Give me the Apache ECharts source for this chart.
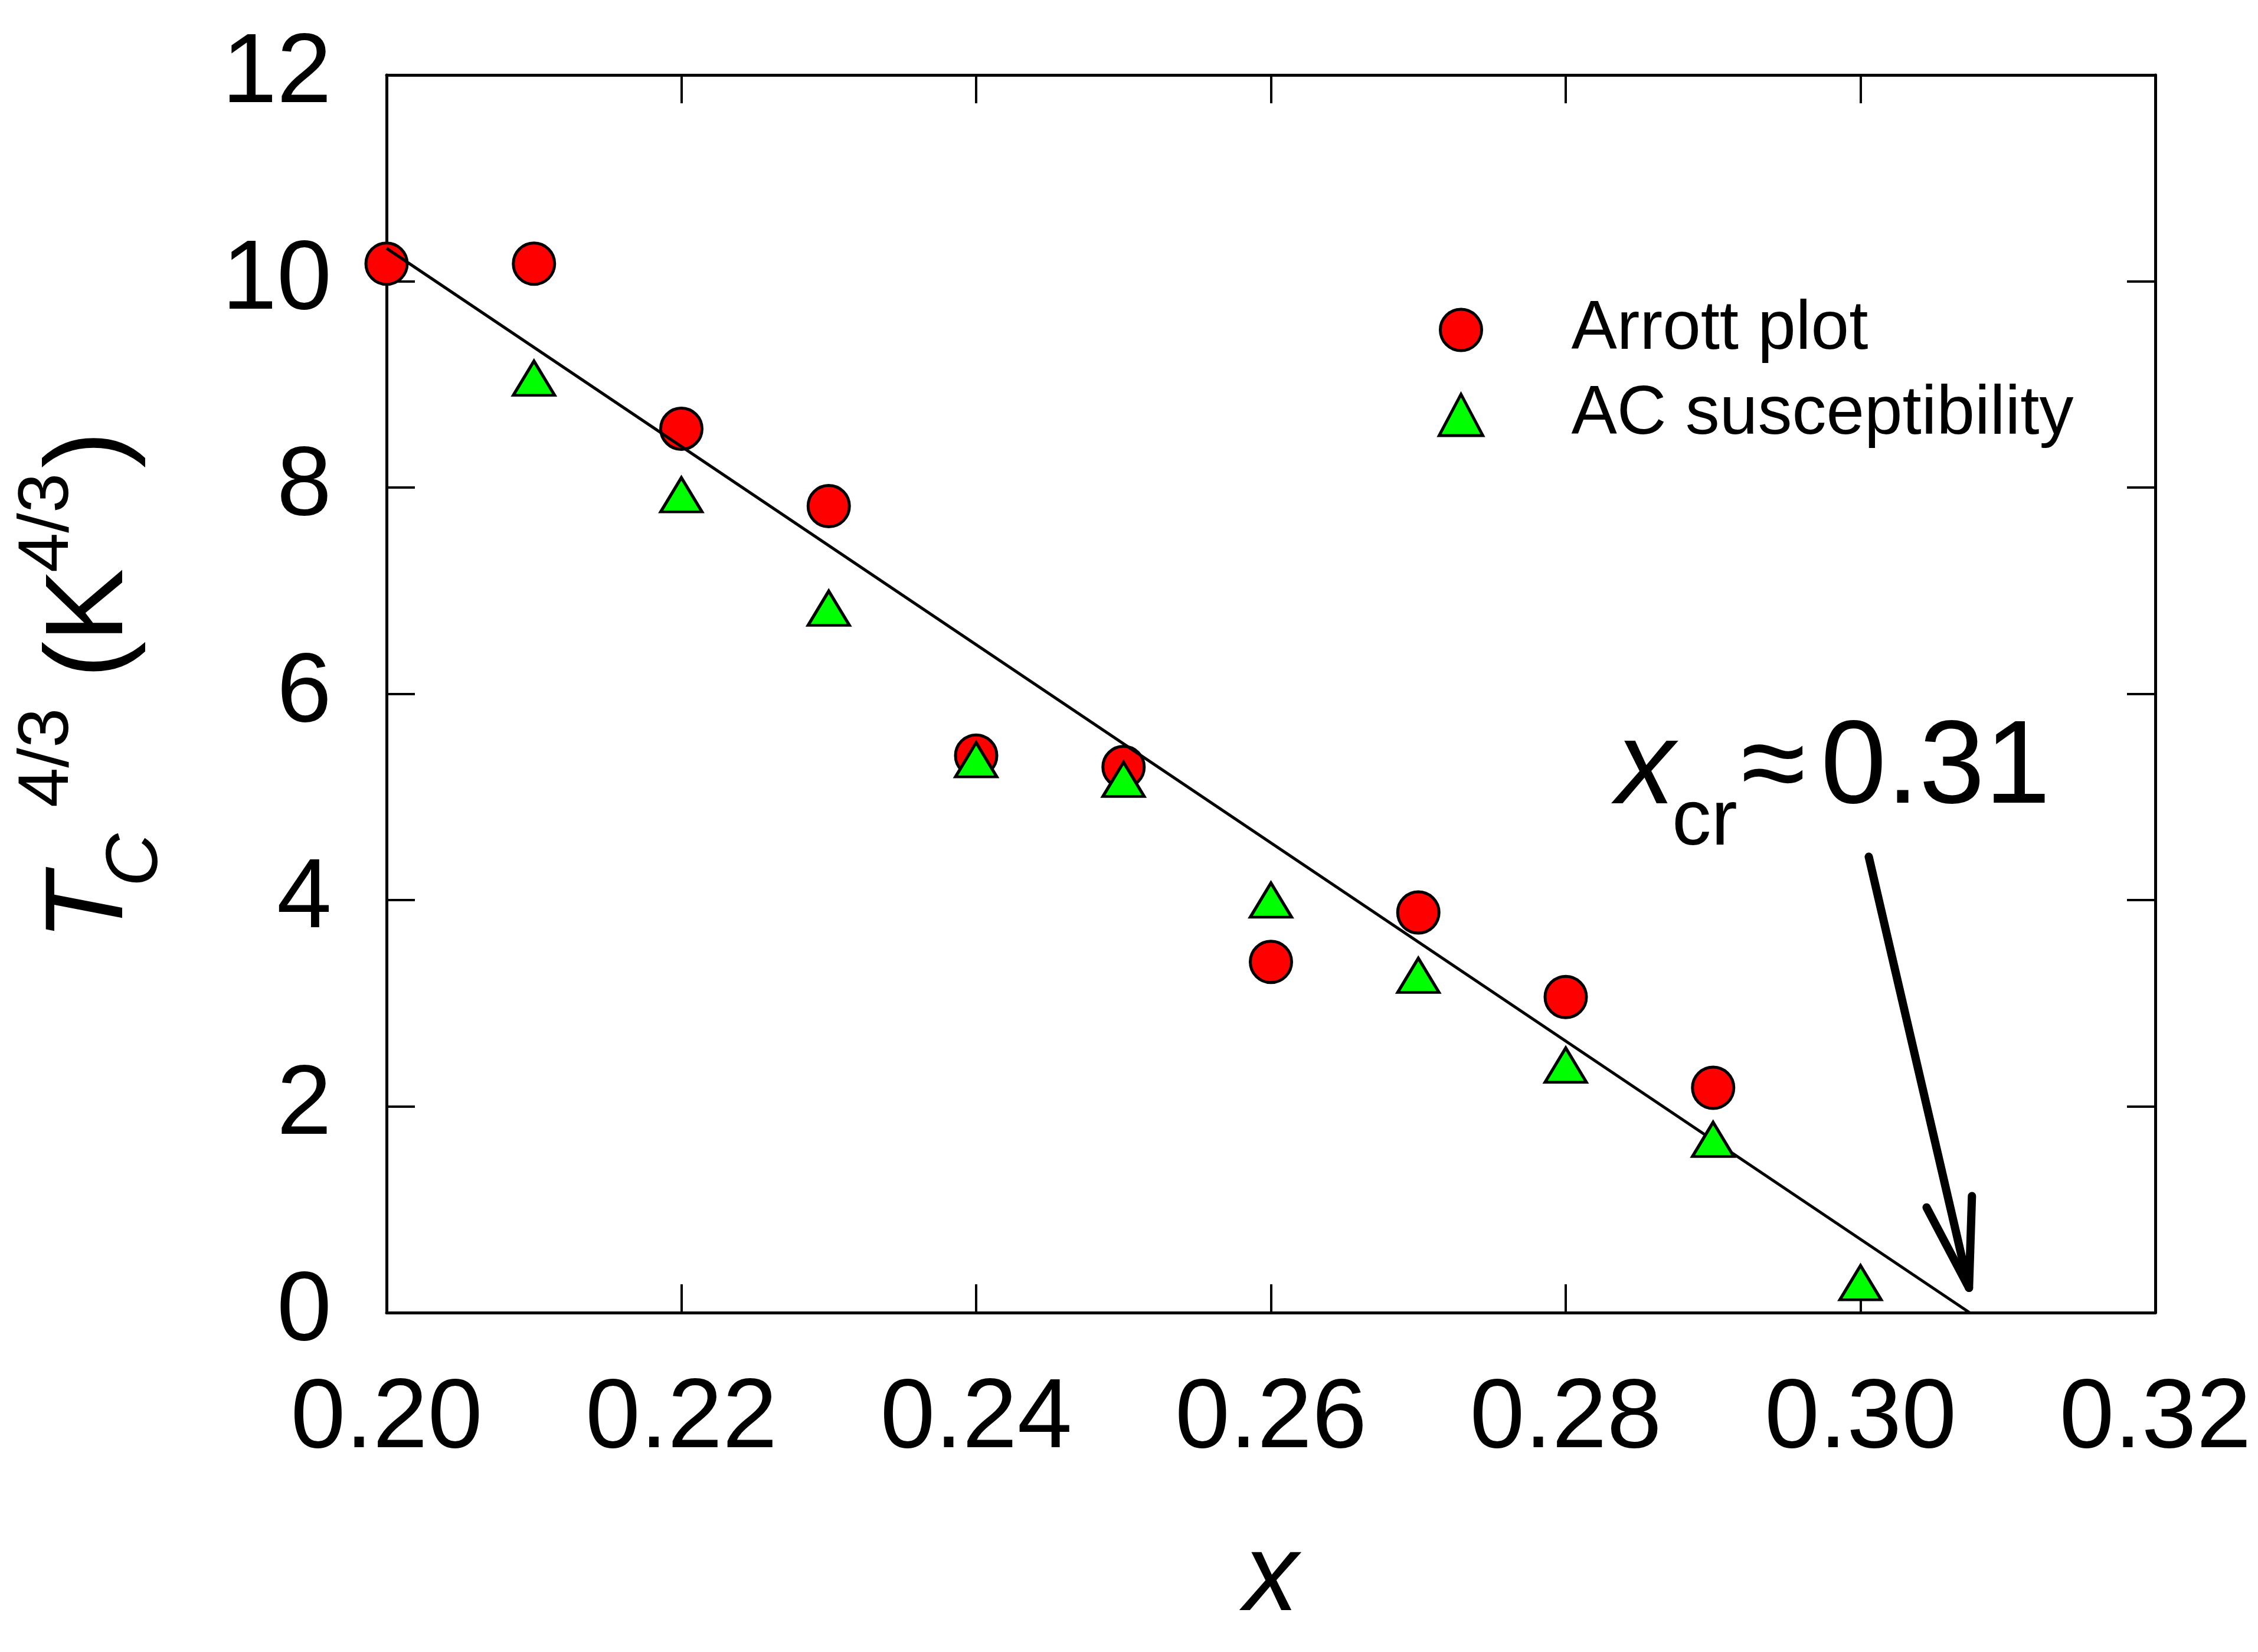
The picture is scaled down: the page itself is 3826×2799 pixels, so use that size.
<!DOCTYPE html>
<html>
<head>
<meta charset="utf-8">
<script src="https://cdn.jsdelivr.net/npm/echarts@6/dist/echarts.min.js"></script>
<style>
    html, body { margin: 0; padding: 0; background: #fff; }
    #chart { width: 3826px; height: 2799px; }
</style>
</head>
<body>
<div id="chart"></div>
<script>
// Data
var arrottX = [0.20, 0.21, 0.22, 0.23, 0.24, 0.25, 0.26, 0.27, 0.28, 0.29];
var arrottY = [10.17, 10.17, 8.57, 7.82, 5.40, 5.29, 3.40, 3.88, 3.06, 2.18];

var acX = [0.21, 0.22, 0.23, 0.24, 0.25, 0.26, 0.27, 0.28, 0.29, 0.30];
var acY = [9.06, 7.93, 6.83, 5.36, 5.17, 4.00, 3.27, 2.40, 1.68, 0.29];

// linear fit, drawn from x = 0.20 down to the zero crossing
var fitX = [0.20, 0.3074];
var fitY = [10.32, 0];

// annotation arrow (data coords)
var arrowShaftX = [0.30056, 0.30736];
var arrowShaftY = [4.42, 0.24];
var arrowHeadX = [0.30448, 0.30736, 0.30756];
var arrowHeadY = [1.02, 0.24, 1.13];

var xMin = 0.20, xMax = 0.32, xStep = 0.02;
var yMin = 0, yMax = 12, yStep = 2;

var FONT = "'Liberation Sans', Arial, sans-serif";

function pairs(xs, ys) {
    var out = [];
    for (var i = 0; i < xs.length; i++) out.push([xs[i], ys[i]]);
    return out;
}

var myChart = echarts.init(document.getElementById('chart'), null, { renderer: 'canvas' });

var tickStyle = { show: true, inside: true, length: 48, lineStyle: { color: '#000', width: 4 } };
var lineStyleAxis = { show: true, onZero: false, lineStyle: { color: '#000', width: 5 } };

// y-axis title pieces, local coords (rotated group), x along the text
var TS = 187, SS = 121, CS = 124;
function txt(str, x, y, size, italic) {
    return {
        type: 'text', x: x, y: y,
        style: {
            text: str, fill: '#000', font: (italic ? 'italic ' : '') + size + 'px ' + FONT,
            align: 'left', verticalAlign: 'middle'
        }
    };
}

var option = {
    backgroundColor: '#fff',
    animation: false,
    textStyle: { fontFamily: FONT, color: '#000' },
    grid: {
        left: 655, top: 127, right: 174, bottom: 575,
        containLabel: false, outerBoundsMode: 'none'
    },
    legend: {
        orient: 'vertical',
        left: 2431, top: 496,
        itemWidth: 74, itemHeight: 70,
        itemGap: 28,
        data: [
            { name: 'Arrott plot', icon: 'circle' },
            { name: 'AC susceptibility', icon: 'triangle' }
        ],
        itemStyle: { borderColor: '#000', borderWidth: 5 },
        textStyle: { fontFamily: FONT, fontSize: 116, color: '#000', lineHeight: 70, padding: [0, 0, 0, 145] }
    },
    xAxis: [
        {
            type: 'value', position: 'bottom',
            min: xMin, max: xMax, interval: xStep,
            axisLine: lineStyleAxis, axisTick: tickStyle, splitLine: { show: false },
            axisLabel: {
                fontFamily: FONT, fontSize: 167, color: '#000', margin: 98,
                formatter: function (v) { return v.toFixed(2); }
            },
            name: 'x', nameLocation: 'middle', nameGap: 360,
            nameTextStyle: { fontFamily: FONT, fontSize: 185, fontStyle: 'italic', color: '#000' }
        },
        {
            type: 'value', position: 'top',
            min: xMin, max: xMax, interval: xStep,
            axisLine: lineStyleAxis, axisTick: tickStyle, splitLine: { show: false },
            axisLabel: { show: false }
        }
    ],
    yAxis: [
        {
            type: 'value', position: 'left',
            min: yMin, max: yMax, interval: yStep,
            axisLine: lineStyleAxis, axisTick: tickStyle, splitLine: { show: false },
            axisLabel: { fontFamily: FONT, fontSize: 167, color: '#000', margin: 93 }
        },
        {
            type: 'value', position: 'right',
            min: yMin, max: yMax, interval: yStep,
            axisLine: lineStyleAxis, axisTick: tickStyle, splitLine: { show: false },
            axisLabel: { show: false }
        }
    ],
    series: [
        {
            name: 'Arrott plot', type: 'scatter',
            data: pairs(arrottX, arrottY),
            symbol: 'circle', symbolSize: 70,
            itemStyle: { color: '#ff0000', borderColor: '#000', borderWidth: 5, opacity: 1 },
            z: 3
        },
        {
            name: 'fit', type: 'line',
            data: pairs(fitX, fitY),
            symbol: 'none', silent: true,
            lineStyle: { color: '#000', width: 5 },
            z: 4
        },
        {
            name: 'AC susceptibility', type: 'scatter',
            data: pairs(acX, acY),
            symbol: 'triangle', symbolSize: [70, 58],
            itemStyle: { color: '#00ff00', borderColor: '#000', borderWidth: 5, opacity: 1 },
            z: 5
        },
        {
            name: 'arrowShaft', type: 'line',
            data: pairs(arrowShaftX, arrowShaftY),
            symbol: 'none', silent: true,
            lineStyle: { color: '#000', width: 14, cap: 'round' },
            z: 6
        },
        {
            name: 'arrowHead', type: 'line',
            data: pairs(arrowHeadX, arrowHeadY),
            symbol: 'none', silent: true,
            lineStyle: { color: '#000', width: 14, cap: 'round', join: 'round' },
            z: 6
        }
    ],
    graphic: [
        {
            // y axis title: T_C^{4/3} (K^{4/3}), reads bottom to top
            type: 'group', x: 217, y: 1594, rotation: Math.PI / 2,
            children: [
                txt('T', 0, -0.33 * TS, TS, true),
                txt('C', 92, 55 - 0.33 * CS, CS, true),
                txt('4/3', 226, -95 - 0.33 * SS, SS, false),
                txt('(', 445, -0.33 * TS, TS, false),
                txt('K', 506, -0.33 * TS, TS, false),
                txt('4/3', 624, -95 - 0.33 * SS, SS, false),
                txt(')', 801, -0.33 * TS, TS, false)
            ]
        },
        txt('x', 2738, 1371 - 0.33 * 200, 200, true),
        txt('cr', 2833, 1438 - 0.33 * 133, 133, false),
        txt('\u2248', 2950, 1371 - 0.33 * 200, 200, false),
        txt('0.31', 3085, 1371 - 0.33 * 200, 200, false)
    ]
};

myChart.setOption(option);
</script>
</body>
</html>
